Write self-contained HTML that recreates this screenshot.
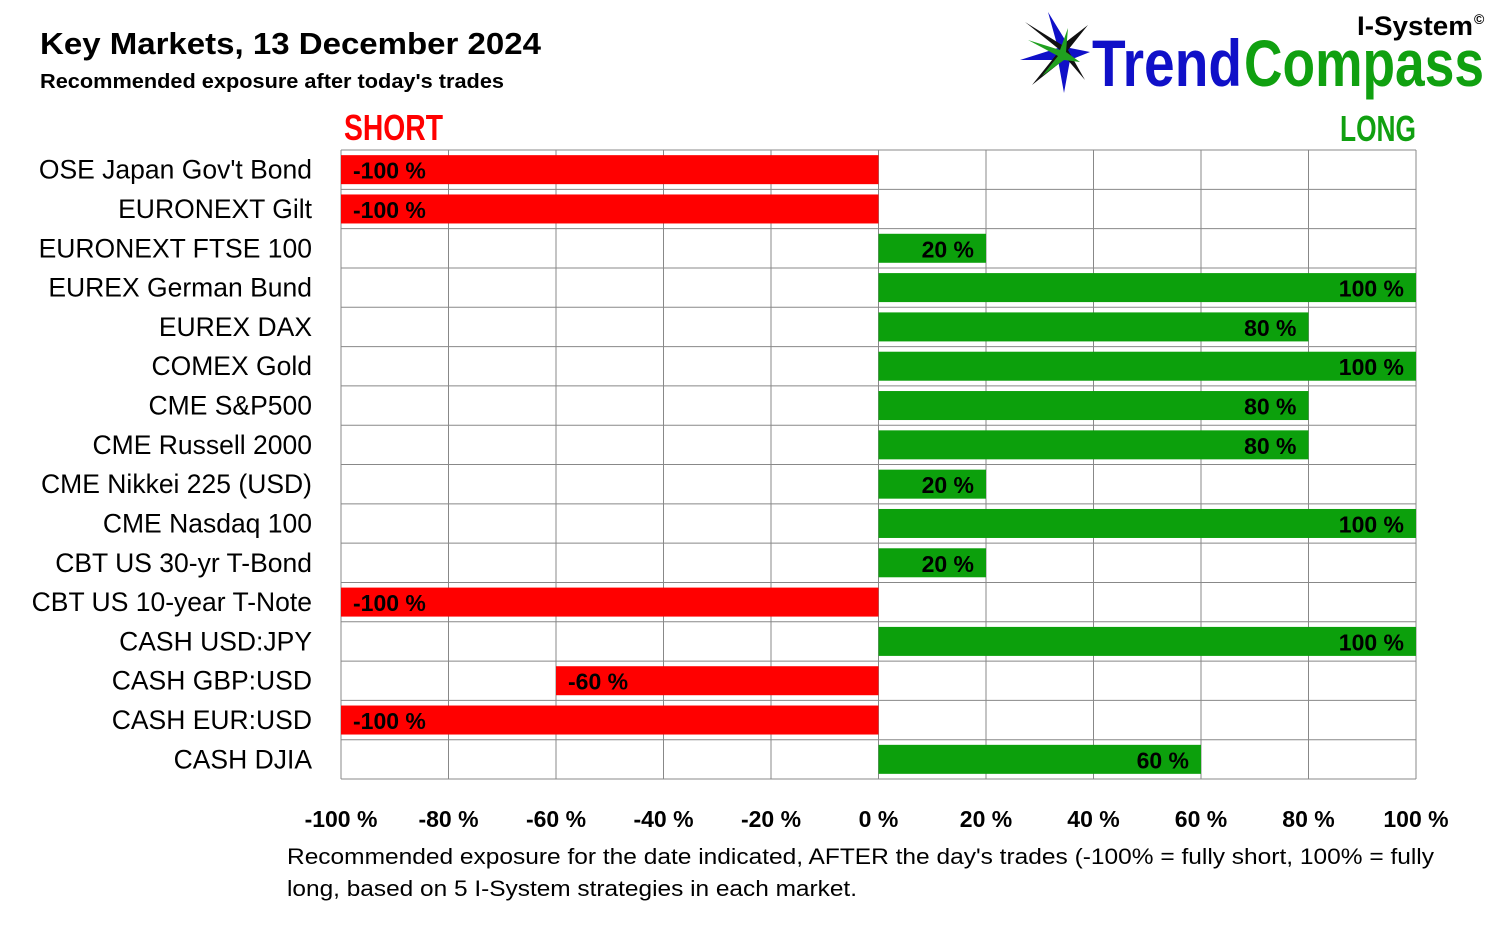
<!DOCTYPE html>
<html><head><meta charset="utf-8"><style>
body{margin:0;background:#fff;width:1494px;height:935px;overflow:hidden;font-family:"Liberation Sans",sans-serif}
</style></head><body>
<svg width="1494" height="935" xmlns="http://www.w3.org/2000/svg">
<text x="40" y="54" font-size="31" font-weight="bold" fill="#000" textLength="501" lengthAdjust="spacingAndGlyphs">Key Markets, 13 December 2024</text>
<text x="40" y="88" font-size="20" font-weight="bold" fill="#000" textLength="464" lengthAdjust="spacingAndGlyphs">Recommended exposure after today's trades</text>
<g>
<polygon points="1048,12 1058,48 1020,60 1058,60 1064,93 1070,60 1090,52 1070,48" fill="#1010c8"/>
<polygon points="1025,22 1060,50 1032,85 1066,58 1085,80 1068,50 1088,25 1062,45" fill="#111"/>
<polygon points="1068,28 1060,50 1028,40 1058,56 1042,76 1064,60 1080,62 1066,52" fill="#20a020"/>
<text x="1357" y="35" font-size="27" font-weight="bold" fill="#000" textLength="116" lengthAdjust="spacingAndGlyphs">I-System</text>
<text x="1474" y="24" font-size="14" font-weight="bold" fill="#000">©</text>
<text x="1092" y="86" font-size="66" font-weight="bold" fill="#1010c8" textLength="150" lengthAdjust="spacingAndGlyphs">Trend</text>
<text x="1244" y="86" font-size="66" font-weight="bold" fill="#10a010" textLength="240" lengthAdjust="spacingAndGlyphs">Compass</text>
</g>
<text x="344" y="140" font-size="36" font-weight="bold" fill="#f00" textLength="99" lengthAdjust="spacingAndGlyphs">SHORT</text>
<text x="1340" y="141" font-size="36" font-weight="bold" fill="#10a010" textLength="76" lengthAdjust="spacingAndGlyphs">LONG</text>
<g id="grid"></g><g id="bars"></g><g id="labels"></g>
<text x="287" y="864" font-size="22" fill="#000" textLength="1147" lengthAdjust="spacingAndGlyphs">Recommended exposure for the date indicated, AFTER the day's trades (-100% = fully short, 100% = fully</text>
<text x="287" y="896" font-size="22" fill="#000" textLength="570" lengthAdjust="spacingAndGlyphs">long, based on 5 I-System strategies in each market.</text>
</svg>
<script>
const categories=["OSE Japan Gov't Bond","EURONEXT Gilt","EURONEXT FTSE 100","EUREX German Bund","EUREX DAX","COMEX Gold","CME S&P500","CME Russell 2000","CME Nikkei 225 (USD)","CME Nasdaq 100","CBT US 30-yr T-Bond","CBT US 10-year T-Note","CASH USD:JPY","CASH GBP:USD","CASH EUR:USD","CASH DJIA"];
const values=[-100,-100,20,100,80,100,80,80,20,100,20,-100,100,-60,-100,60];
const ticks=[-100,-80,-60,-40,-20,0,20,40,60,80,100];
const NS="http://www.w3.org/2000/svg";
const L=341,R=1416,T=150,B=779;
const xs=v=>L+(v+100)/200*(R-L);
const rh=(B-T)/categories.length;
const mk=(t,a,p)=>{const e=document.createElementNS(NS,t);for(const k in a)e.setAttribute(k,a[k]);p.appendChild(e);return e;};
const g=document.getElementById('grid'),bg=document.getElementById('bars'),lg=document.getElementById('labels');
ticks.forEach(t=>{
 const l=mk('line',{x1:xs(t),x2:xs(t),y1:T,y2:B,stroke:'#888','stroke-width':1},g);
 
 
 const tx=mk('text',{x:xs(t),y:827,'font-size':23,'font-weight':'bold','text-anchor':'middle'},lg);
 tx.textContent=t+' %';
 
 
});
for(let i=0;i<=categories.length;i++){
 const l=mk('line',{x1:L,x2:R,y1:T+i*rh,y2:T+i*rh,stroke:'#888','stroke-width':1},g);
 
 
}
categories.forEach((c,i)=>{
 const cy=T+(i+0.5)*rh;
 const tx=mk('text',{x:312,y:cy+9,'font-size':26.5,'text-anchor':'end'},lg);
 tx.textContent=c;
 
 
 const v=values[i];
 const x0=Math.min(xs(0),xs(v)),w=Math.abs(xs(v)-xs(0));
 const r=mk('rect',{x:x0,y:cy-14.5,width:w,height:29,fill:v<0?'#ff0000':'#0ca00c'},bg);
 
 
 const lb=mk('text',{x:v<0?xs(v)+12:xs(v)-12,y:cy+9,'font-size':23,'font-weight':'bold','text-anchor':v<0?'start':'end'},lg);
 lb.textContent=v+' %';
 
 
});
</script>
</body></html>
